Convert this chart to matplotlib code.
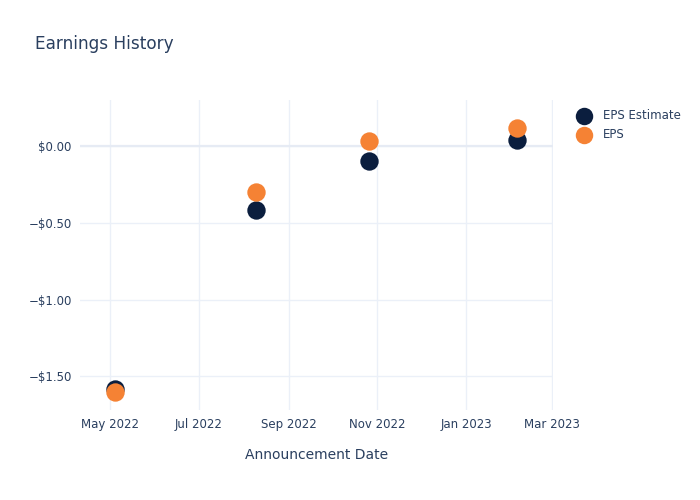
import numpy as np
import pandas as pd
import matplotlib
matplotlib.use("Agg")
import matplotlib.pyplot as plt
import matplotlib.dates as mdates
from matplotlib.ticker import FuncFormatter

# Data
dates = pd.to_datetime(["2022-05-04", "2022-08-09", "2022-10-26", "2023-02-05"])
eps_estimate = [-1.58, -0.42, -0.10, 0.04]
eps_actual = [-1.60, -0.30, 0.03, 0.12]

text_color = "#2a3f5f"
grid_color = "#ebf0f8"

fig = plt.figure(figsize=(7, 5), dpi=100)
ax = fig.add_axes([80 / 700, 90 / 500, 473 / 700, 310 / 500])

ax.scatter(dates, eps_estimate, s=175, color="#0b1e3e", label="EPS Estimate", zorder=3, linewidths=0)
ax.scatter(dates, eps_actual, s=175, color="#f58234", label="EPS", zorder=4, linewidths=0)

ax.set_xlim(pd.Timestamp("2022-04-10"), pd.Timestamp("2023-03-02"))
ax.set_ylim(-1.72, 0.30)

ax.xaxis.set_major_locator(mdates.MonthLocator(bymonth=[1, 3, 5, 7, 9, 11]))
ax.xaxis.set_major_formatter(mdates.DateFormatter("%b %Y"))
ax.set_yticks([0.0, -0.5, -1.0, -1.5])
ax.yaxis.set_major_formatter(FuncFormatter(
    lambda v, p: ("\u2212$%.2f" % abs(v)) if v < 0 else "$%.2f" % v))

ax.grid(True, color=grid_color, linewidth=1)
ax.axhline(0, color="#e6ebf4", linewidth=1.6, zorder=1)
ax.set_axisbelow(True)
for s in ax.spines.values():
    s.set_visible(False)
ax.tick_params(length=0, labelsize=8.5, colors=text_color, pad=6)

ax.set_xlabel("Announcement Date", fontsize=10, color=text_color, labelpad=12)
fig.text(35 / 700, 1 - 44 / 500, "Earnings History", fontsize=12.2, color=text_color, va="center")

leg = ax.legend(loc="upper left", bbox_to_anchor=(1.03, 0.985), frameon=False,
                fontsize=8.5, labelcolor=text_color, handletextpad=0.6,
                markerscale=0.95, borderaxespad=0, labelspacing=0.5)

fig.savefig("out.png", dpi=100)
